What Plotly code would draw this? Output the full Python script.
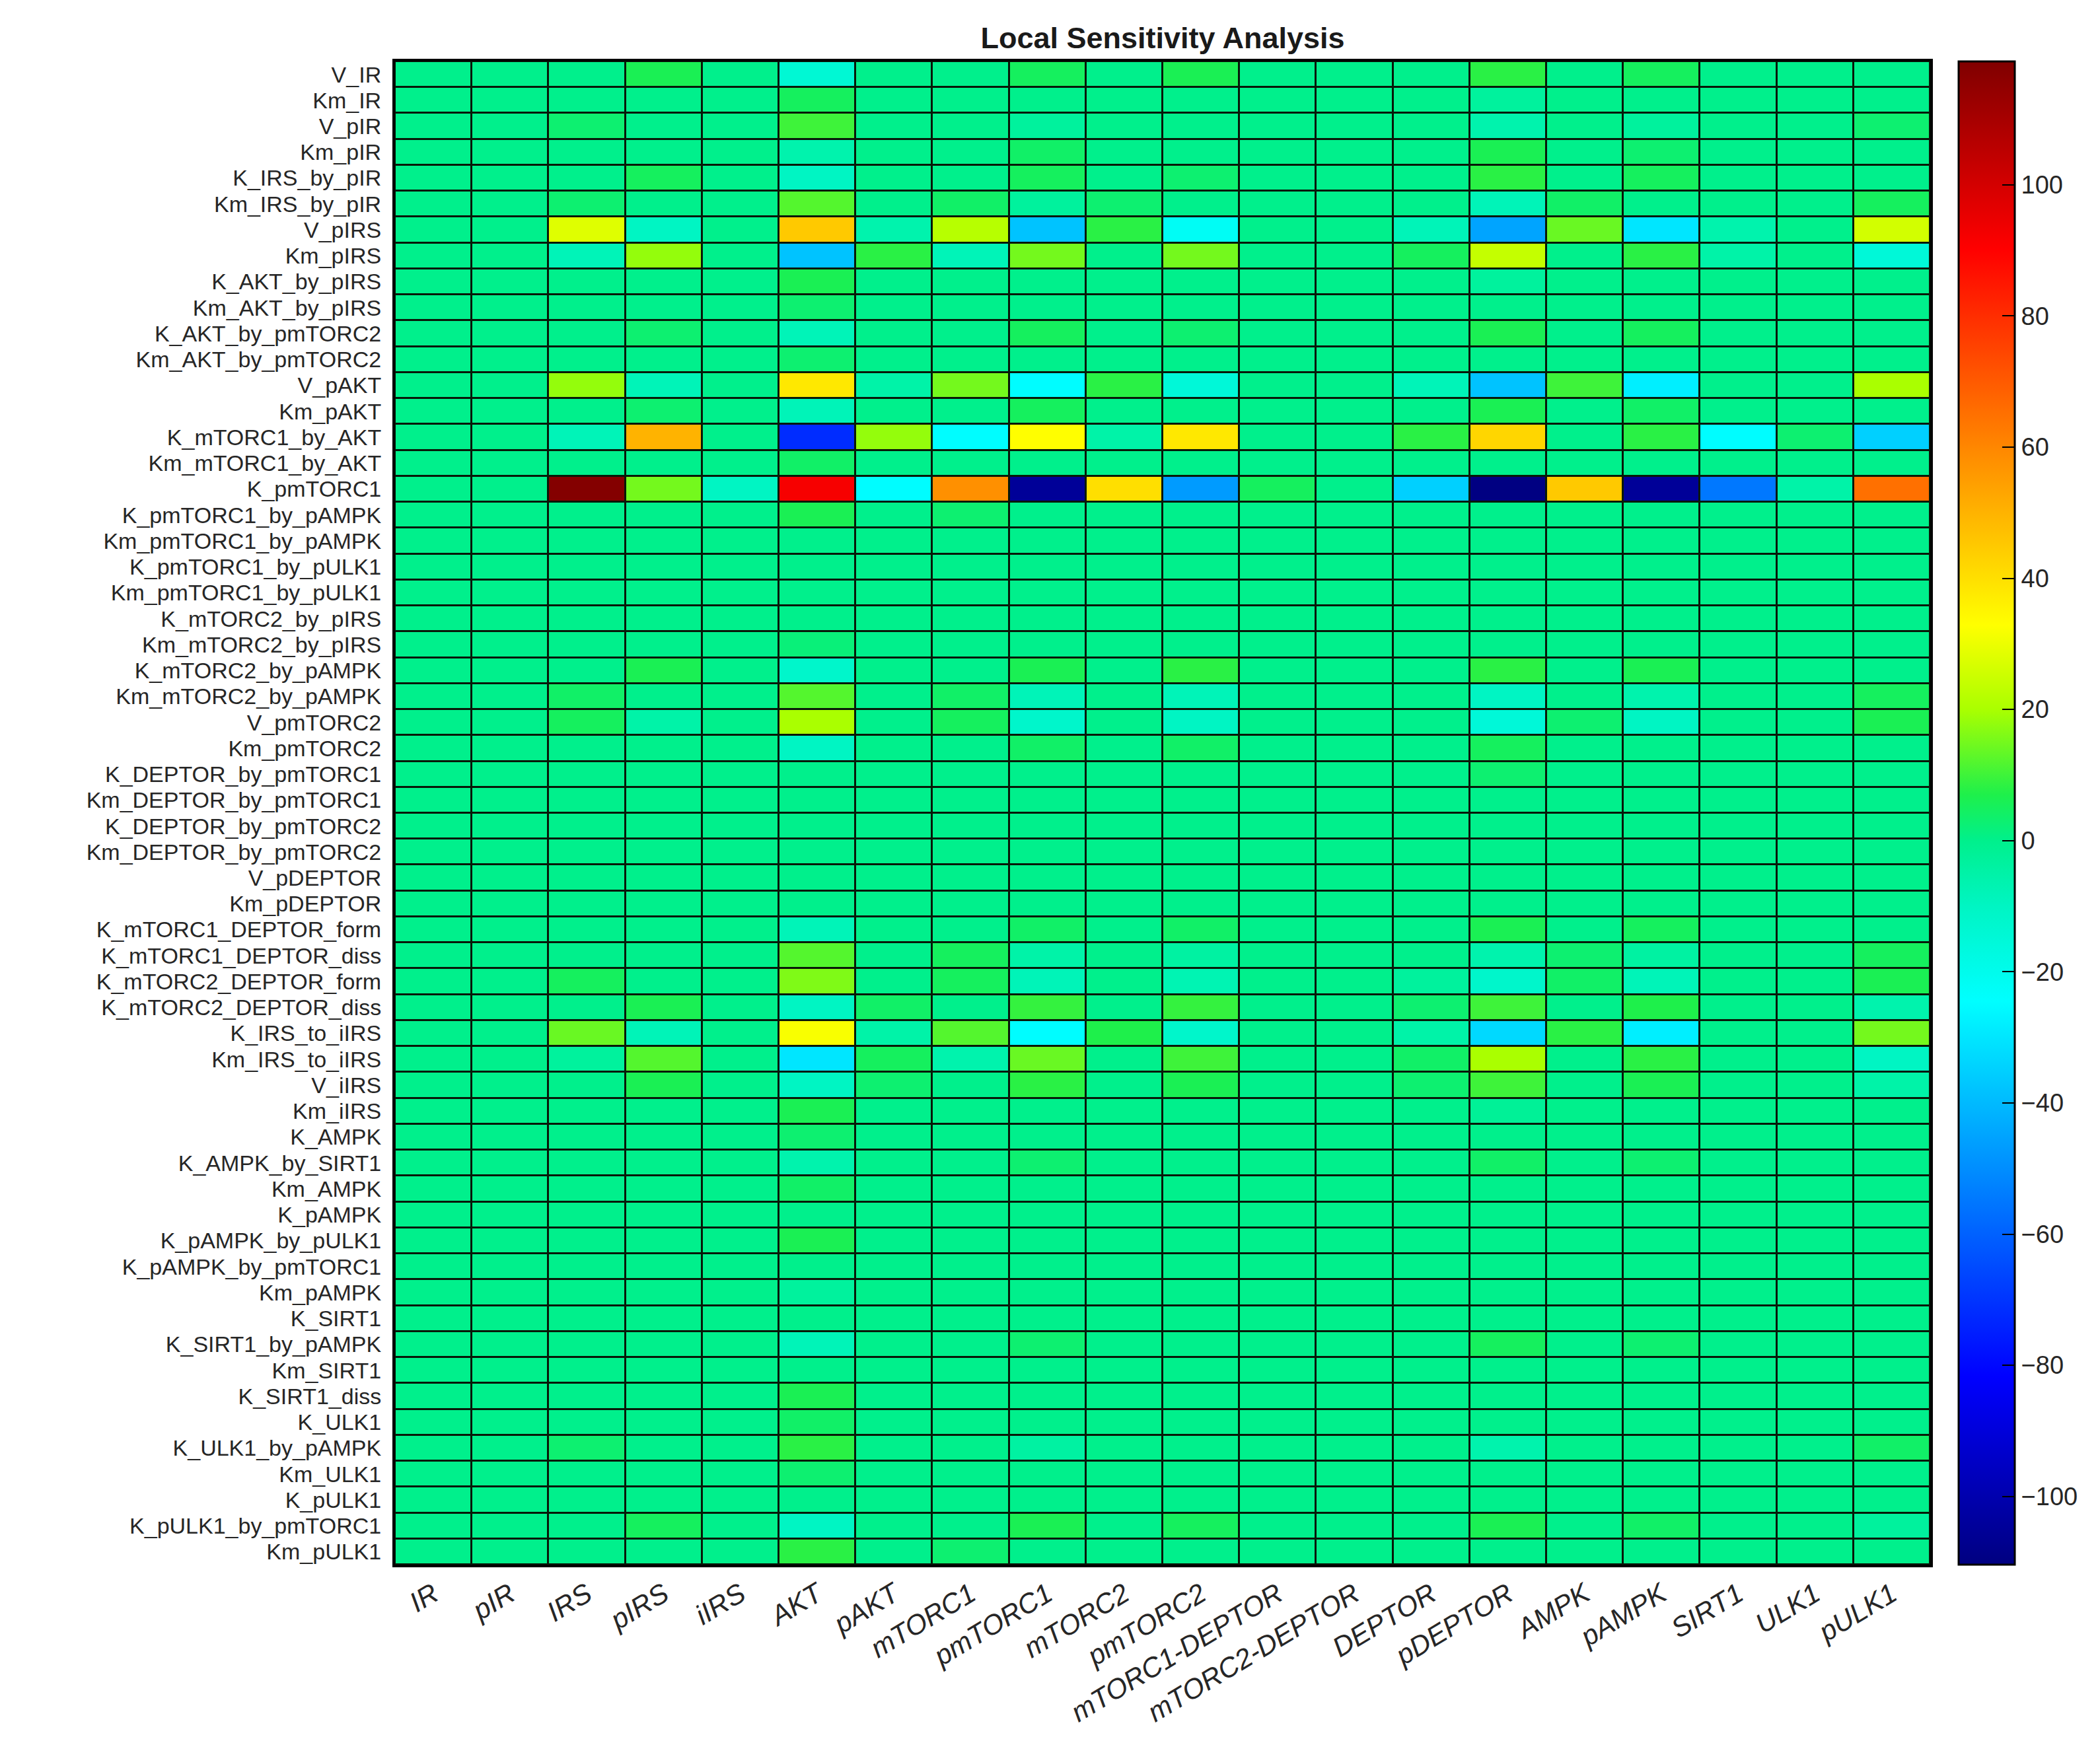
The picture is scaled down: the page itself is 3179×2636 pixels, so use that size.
import plotly.graph_objects as go

# ---------------- data ----------------
param_names = [
    "V_IR", "Km_IR", "V_pIR", "Km_pIR", "K_IRS_by_pIR", "Km_IRS_by_pIR",
    "V_pIRS", "Km_pIRS", "K_AKT_by_pIRS", "Km_AKT_by_pIRS", "K_AKT_by_pmTORC2",
    "Km_AKT_by_pmTORC2", "V_pAKT", "Km_pAKT", "K_mTORC1_by_AKT", "Km_mTORC1_by_AKT",
    "K_pmTORC1", "K_pmTORC1_by_pAMPK", "Km_pmTORC1_by_pAMPK", "K_pmTORC1_by_pULK1",
    "Km_pmTORC1_by_pULK1", "K_mTORC2_by_pIRS", "Km_mTORC2_by_pIRS", "K_mTORC2_by_pAMPK",
    "Km_mTORC2_by_pAMPK", "V_pmTORC2", "Km_pmTORC2", "K_DEPTOR_by_pmTORC1",
    "Km_DEPTOR_by_pmTORC1", "K_DEPTOR_by_pmTORC2", "Km_DEPTOR_by_pmTORC2", "V_pDEPTOR",
    "Km_pDEPTOR", "K_mTORC1_DEPTOR_form", "K_mTORC1_DEPTOR_diss", "K_mTORC2_DEPTOR_form",
    "K_mTORC2_DEPTOR_diss", "K_IRS_to_iIRS", "Km_IRS_to_iIRS", "V_iIRS", "Km_iIRS",
    "K_AMPK", "K_AMPK_by_SIRT1", "Km_AMPK", "K_pAMPK", "K_pAMPK_by_pULK1",
    "K_pAMPK_by_pmTORC1", "Km_pAMPK", "K_SIRT1", "K_SIRT1_by_pAMPK", "Km_SIRT1",
    "K_SIRT1_diss", "K_ULK1", "K_ULK1_by_pAMPK", "Km_ULK1", "K_pULK1",
    "K_pULK1_by_pmTORC1", "Km_pULK1",
]

species = ["IR", "pIR", "IRS", "pIRS", "iIRS", "AKT", "pAKT", "mTORC1", "pmTORC1",
           "mTORC2", "pmTORC2", "mTORC1-DEPTOR", "mTORC2-DEPTOR", "DEPTOR", "pDEPTOR",
           "AMPK", "pAMPK", "SIRT1", "ULK1", "pULK1"]

# sensitivity of each species (one list per column, one value per parameter row)
s_IR = [0, 0, 0, 0, 0, 0, 0, 0, 0, 0,
        0, 0, 0, 0, 0, 0, 0, 0, 0, 0,
        0, 0, 0, 0, 0, 0, 0, 0, 0, 0,
        0, 0, 0, 0, 0, 0, 0, 0, 0, 0,
        0, 0, 0, 0, 0, 0, 0, 0, 0, 0,
        0, 0, 0, 0, 0, 0, 0, 0]
s_pIR = [0, 0, 0, 0, 0, 0, 0, 0, 0, 0,
         0, 0, 0, 0, 0, 0, 0, 0, 0, 0,
         0, 0, 0, 0, 0, 0, 0, 0, 0, 0,
         0, 0, 0, 0, 0, 0, 0, 0, 0, 0,
         0, 0, 0, 0, 0, 0, 0, 0, 0, 0,
         0, 0, 0, 0, 0, 0, 0, 0]
s_IRS = [0, 0, 3, 0, 0, 3, 28, -8, 0, 0,
         0, 0, 18, 0, -8, 0, 118, 0, 0, 0,
         0, 0, 0, 0, 4, 5, 0, 0, 0, 0,
         0, 0, 0, 0, 0, 5, 0, 14, -3, 0,
         0, 0, 0, 0, 0, 0, 0, 0, 0, 0,
         0, 0, 0, 3, 0, 0, 0, 0]
s_pIRS = [6, 0, 0, 0, 5, 0, -10, 18, 0, 0,
          3, 0, -8, 3, 50, 0, 15, 0, 0, 0,
          0, 0, 0, 6, 0, -5, 0, 0, 0, 0,
          0, 0, 0, 0, 0, 0, 6, -8, 12, 6,
          0, 0, 0, 0, 0, 0, 0, 0, 0, 0,
          0, 0, 0, 0, 0, 0, 5, 0]
s_iIRS = [0, 0, 0, 0, 0, 0, 0, 0, 0, 0,
          0, 0, 0, 0, 0, 0, -10, 0, 0, 0,
          0, 0, 0, 0, 0, 0, 0, 0, 0, 0,
          0, 0, 0, 0, 0, 0, 0, 0, 0, 0,
          0, 0, 0, 0, 0, 0, 0, 0, 0, 0,
          0, 0, 0, 0, 0, 0, 0, 0]
s_AKT = [-14, 5, 10, -6, -10, 12, 45, -38, 6, 3,
         -8, 3, 38, -8, -72, 4, 92, 6, 0, 0,
         0, 0, 2, -12, 12, 20, -10, 0, 0, 0,
         0, 0, 0, -8, 12, 16, -10, 32, -30, -10,
         6, 3, -6, 4, 0, 6, 0, -3, 0, -8,
         0, 6, 4, 8, 3, 0, -10, 8]
s_pAKT = [0, 0, 0, 0, 0, 0, -6, 8, 0, 0,
          0, 0, -5, 0, 18, 0, -25, 0, 0, 0,
          0, 0, 0, 0, 0, 0, 0, 0, 0, 0,
          0, 0, 0, 0, 0, 0, 4, -5, 5, 3,
          0, 0, 0, 0, 0, 0, 0, 0, 0, 0,
          0, 0, 0, 0, 0, 0, 0, 0]
s_mTORC1 = [0, 0, 0, 0, 0, 4, 22, -8, 0, 0,
            0, 0, 15, 0, -25, 0, 58, 3, 0, 0,
            0, 0, 0, 0, 4, 5, 0, 0, 0, 0,
            0, 0, 0, 0, 5, 5, 0, 12, -6, 0,
            0, 0, 0, 0, 0, 0, 0, 0, 0, 0,
            0, 0, 0, 0, 0, 0, 0, 3]
s_pmTORC1 = [5, 0, -3, 4, 5, -3, -38, 15, 0, 0,
             5, 0, -25, 5, 33, 0, -105, 0, 0, 0,
             0, 0, 0, 6, -8, -12, 4, 0, 0, 0,
             0, 0, 0, 4, -5, -8, 9, -25, 14, 8,
             0, 0, 3, 0, 0, 0, 0, 0, 0, 3,
             0, 0, 0, -4, 0, 0, 6, 0]
s_mTORC2 = [0, 0, 0, 0, 0, 3, 8, 0, 0, 0,
            0, 0, 8, 0, -5, 0, 40, 0, 0, 0,
            0, 0, 0, 0, 0, 0, 0, 0, 0, 0,
            0, 0, 0, 0, 0, 0, 0, 7, 0, 0,
            0, 0, 0, 0, 0, 0, 0, 0, 0, 0,
            0, 0, 0, 0, 0, 0, 0, 0]
s_pmTORC2 = [6, 0, 0, 0, 3, 0, -22, 15, 0, 0,
             3, 0, -15, 0, 38, 0, -47, 0, 0, 0,
             0, 0, 0, 8, -8, -10, 4, 0, 0, 0,
             0, 0, 0, 4, -4, -7, 9, -12, 10, 6,
             0, 0, 0, 0, 0, 0, 0, 0, 0, 0,
             0, 0, 0, 0, 0, 0, 5, 0]
s_mTORC1_DEPTOR = [0, 0, 0, 0, 0, 0, 0, 0, 0, 0,
                   0, 0, 0, 0, 0, 0, 5, 0, 0, 0,
                   0, 0, 0, 0, 0, 0, 0, 0, 0, 0,
                   0, 0, 0, 0, 0, 0, 0, 0, 0, 0,
                   0, 0, 0, 0, 0, 0, 0, 0, 0, 0,
                   0, 0, 0, 0, 0, 0, 0, 0]
s_mTORC2_DEPTOR = [0, 0, 0, 0, 0, 0, 0, 0, 0, 0,
                   0, 0, 0, 0, 0, 0, 0, 0, 0, 0,
                   0, 0, 0, 0, 0, 0, 0, 0, 0, 0,
                   0, 0, 0, 0, 0, 0, 0, 0, 0, 0,
                   0, 0, 0, 0, 0, 0, 0, 0, 0, 0,
                   0, 0, 0, 0, 0, 0, 0, 0]
s_DEPTOR = [0, 0, 0, 0, 0, 0, -8, 5, 0, 0,
            0, 0, -8, 0, 8, 0, -35, 0, 0, 0,
            0, 0, 0, 0, 0, 0, 0, 0, 0, 0,
            0, 0, 0, 0, 0, -3, 3, -5, 4, 3,
            0, 0, 0, 0, 0, 0, 0, 0, 0, 0,
            0, 0, 0, 0, 0, 0, 0, 0]
s_pDEPTOR = [8, -3, -6, 6, 8, -8, -45, 24, -3, 0,
             6, 0, -38, 6, 42, 0, -110, 0, 0, 0,
             0, 0, 0, 8, -10, -15, 5, 3, 0, 0,
             0, 0, 0, 6, -6, -12, 10, -33, 20, 10,
             -2, 0, 4, 0, 0, 0, 0, 0, 0, 5,
             0, 0, 0, -6, 0, 0, 6, 0]
s_AMPK = [0, 0, 0, 0, 0, 4, 14, 0, 0, 0,
          0, 0, 10, 0, 0, 0, 45, 0, 0, 0,
          0, 0, 0, 0, 0, 3, 0, 0, 0, 0,
          0, 0, 0, 0, 3, 4, 0, 8, 0, 0,
          0, 0, 0, 0, 0, 0, 0, 0, 0, 0,
          0, 0, 0, 0, 0, 0, 0, 0]
s_pAMPK = [5, 0, -3, 3, 5, 0, -30, 8, 0, 0,
           5, 0, -28, 4, 8, 0, -105, 0, 0, 0,
           0, 0, 0, 6, -6, -10, 0, 0, 0, 0,
           0, 0, 0, 5, -4, -8, 7, -28, 8, 6,
           0, 0, 3, 0, 0, 0, 0, 0, 0, 3,
           0, 0, 0, 0, 0, 0, 4, 0]
s_SIRT1 = [0, 0, 0, 0, 0, 0, -6, -5, 0, 0,
           0, 0, 0, 0, -25, 0, -55, 0, 0, 0,
           0, 0, 0, 0, 0, 0, 0, 0, 0, 0,
           0, 0, 0, 0, 0, 0, 0, 0, 0, 0,
           0, 0, 0, 0, 0, 0, 0, 0, 0, 0,
           0, 0, 0, 0, 0, 0, 0, 0]
s_ULK1 = [0, 0, 0, 0, 0, 0, 0, 0, 0, 0,
          0, 0, 0, 0, 3, 0, -5, 0, 0, 0,
          0, 0, 0, 0, 0, 0, 0, 0, 0, 0,
          0, 0, 0, 0, 0, 0, 0, 0, 0, 0,
          0, 0, 0, 0, 0, 0, 0, 0, 0, 0,
          0, 0, 0, 0, 0, 0, 0, 0]
s_pULK1 = [0, 0, 3, 0, 0, 5, 26, -15, 0, 0,
           0, 0, 20, 0, -35, 0, 65, 0, 0, 0,
           0, 0, 0, 0, 5, 6, 0, 0, 0, 0,
           0, 0, 0, 0, 5, 6, -6, 15, -10, -5,
           0, 0, 0, 0, 0, 0, 0, 0, 0, 0,
           0, 0, 0, 4, 0, 0, -3, 0]

columns = [s_IR, s_pIR, s_IRS, s_pIRS, s_iIRS, s_AKT, s_pAKT, s_mTORC1, s_pmTORC1,
           s_mTORC2, s_pmTORC2, s_mTORC1_DEPTOR, s_mTORC2_DEPTOR, s_DEPTOR, s_pDEPTOR,
           s_AMPK, s_pAMPK, s_SIRT1, s_ULK1, s_pULK1]

color_min, color_max = -110.4, 118.8
colorbar_ticks = [-100, -80, -60, -40, -20, 0, 20, 40, 60, 80, 100]

# ---------------- figure ----------------
z = [[col[r] for col in columns] for r in range(len(param_names))]


def pos(v):
    return (v - color_min) / (color_max - color_min)


jet_like = [
    [0.0, "rgb(0,0,128)"],
    [pos(-81.75), "rgb(0,0,255)"],
    [pos(-53.1), "rgb(0,128,255)"],
    [pos(-24.45), "rgb(0,255,255)"],
    [pos(-10), "rgb(0,245,195)"],
    [pos(0), "rgb(0,240,140)"],
    [pos(7), "rgb(30,240,75)"],
    [pos(20), "rgb(170,255,0)"],
    [pos(32.85), "rgb(255,255,0)"],
    [pos(61.5), "rgb(255,128,0)"],
    [pos(90.15), "rgb(255,0,0)"],
    [1.0, "rgb(128,0,0)"],
]

FONT = "Liberation Sans, Arial, sans-serif"

fig = go.Figure(go.Heatmap(
    z=z,
    x=species,
    y=param_names,
    zmin=color_min,
    zmax=color_max,
    colorscale=jet_like,
    xgap=3,
    ygap=3,
    hoverinfo="skip",
    colorbar=dict(
        thickness=85, thicknessmode="pixels",
        len=1, lenmode="fraction",
        x=1.0184, xanchor="left", xpad=0,
        y=0.5, yanchor="middle", ypad=0,
        outlinewidth=3, outlinecolor="black",
        tickvals=colorbar_ticks,
        ticks="inside", ticklen=20, tickwidth=2, tickcolor="black",
        tickfont=dict(family=FONT, size=38, color="#262626"),
    ),
))

fig.update_layout(
    width=3179, height=2636,
    margin=dict(l=598, r=245, t=93, b=267),
    paper_bgcolor="white",
    plot_bgcolor="#081808",
    title=dict(
        text="<b>Local Sensitivity Analysis</b>",
        x=0.5, xref="paper", xanchor="center",
        y=1 - 57 / 2636, yref="container", yanchor="middle",
        font=dict(family=FONT, size=45, color="#1a1a1a"),
    ),
    font=dict(family=FONT),
)

fig.update_xaxes(
    type="category", tickmode="array", tickvals=species, ticktext=species,
    tickangle=-31, ticks="",
    tickfont=dict(family=FONT, size=42, color="#262626", style="italic"),
    showline=True, linewidth=4, linecolor="black", mirror=True,
    showgrid=False, zeroline=False,
)
fig.update_yaxes(
    type="category", tickmode="array", tickvals=param_names, ticktext=param_names,
    autorange="reversed", ticks="",
    tickfont=dict(family=FONT, size=34, color="#262626"),
    showline=True, linewidth=4, linecolor="black", mirror=True,
    showgrid=False, zeroline=False, ticklabelstandoff=10,
)

fig.write_html("out.html")
